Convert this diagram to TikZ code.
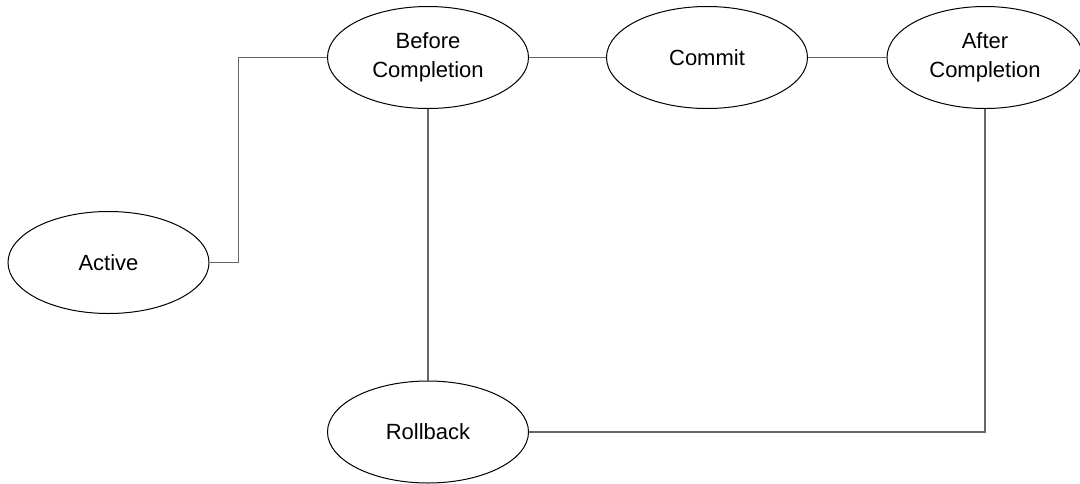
\documentclass[tikz,border=0pt]{standalone}
\usepackage{fontspec}
\setmainfont{Liberation Sans}
\usetikzlibrary{shapes.geometric}
\begin{document}
\begin{tikzpicture}[x=1pt,y=-1pt,
  state/.style={ellipse,draw=black,line width=1pt,minimum width=201pt,minimum height=102pt,inner sep=0pt,align=center,font=\fontsize{22}{29}\selectfont},
  link/.style={draw=black!60,line width=1.1pt}]
\useasboundingbox (0,0) rectangle (1080,483);
\node[state] (active) at (108.5,262.5) {Active};
\node[state] (before) at (428,57.5) {Before\\Completion};
\node[state] (commit) at (707,57.5) {Commit};
\node[state,minimum width=196pt] (after) at (985,57.5) {After\\Completion};
\node[state] (rollback) at (428,432) {Rollback};
\draw[link] (active.east) -- ++(29,0) |- (before.west);
\draw[link] (before.east) -- (commit.west);
\draw[link] (commit.east) -- (after.west);
\draw[link] (before.south) -- (rollback.north);
\draw[link] (after.south) |- (rollback.east);
\end{tikzpicture}
\end{document}
